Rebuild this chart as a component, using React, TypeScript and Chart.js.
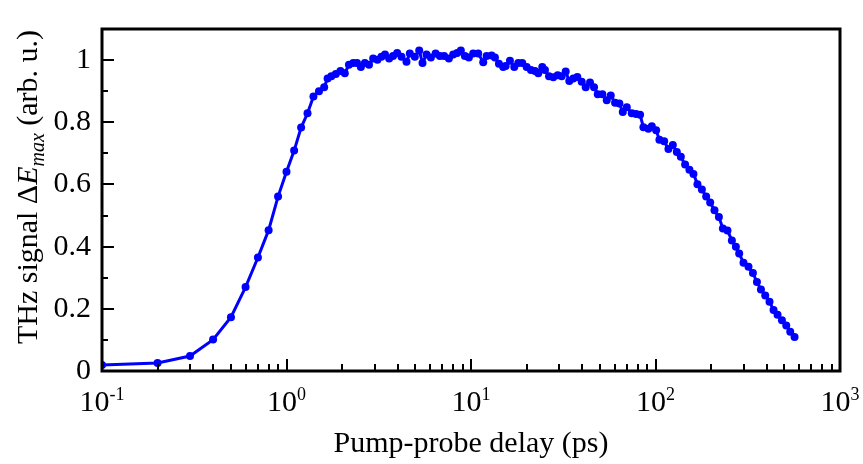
import React, { useEffect, useRef } from "react";
import { Chart, registerables } from "chart.js";

Chart.register(...registerables);

// Pump-probe delay (ps)
const delays = [
  0.1, 0.2, 0.3, 0.4, 0.5, 0.6, 0.7, 0.8, 0.9, 1.0, 1.1, 1.2, 1.3, 1.4, 1.5, 1.6,
  1.67, 1.75, 1.85, 1.96,
  2.07, 2.18, 2.3, 2.41, 2.53, 2.66, 2.8, 2.95,
  3.11, 3.27, 3.42, 3.6, 3.78, 3.98, 4.2, 4.47, 4.66, 4.96, 5.24, 5.46, 5.74,
  6.06, 6.43, 6.78, 7.15, 7.59, 8.01, 8.42, 8.81, 9.27, 9.74,
  10.28, 10.94, 11.65, 12.15, 12.94, 13.48, 14.17, 14.95, 15.41, 16.26, 17.16, 18.04, 18.96,
  20.03, 21.13, 22.22, 23.15, 24.34, 25.17, 26.47, 27.93, 29.51, 31.01, 32.6, 34.11, 35.85,
  37.69, 39.82, 41.86, 44.17, 46.43, 48.64, 51.52, 54.43, 57.22, 60.37, 63.7, 66.47, 69.88,
  74.37, 78.47, 82.49, 86.0, 91.5, 95.5, 100.8, 105.0, 111.4, 117.5, 124.1, 130.5, 137.2,
  144.7, 152.7, 160.6,
  168.8, 178.4, 188.2, 197.9, 208.8, 220.6, 231.9, 245.5, 259.4, 272.7, 284.2,
  299.9, 319.2, 337.3, 354.6, 372.8, 393.3, 415.0, 436.3, 458.6, 484.5, 511.2, 537.4, 567.2,
];

// THz signal ΔE_max (arb. u.)
const signal = [
  0.019, 0.026, 0.048, 0.101, 0.173, 0.27, 0.365, 0.453, 0.561, 0.641, 0.709, 0.783, 0.829, 0.883, 0.9, 0.913,
  0.941, 0.948, 0.955, 0.965,
  0.958, 0.985, 0.991, 0.991, 0.978, 0.991, 0.985, 1.005,
  1.001, 1.011, 1.018, 1.005, 1.013, 1.023, 1.011, 0.995, 1.021, 1.011, 1.031, 0.991, 1.018,
  1.008, 1.021, 1.013, 1.013, 1.005, 1.018, 1.023, 1.031, 1.013, 1.008,
  1.021, 1.021, 0.993, 1.013, 1.015, 1.008, 0.988, 0.978, 0.981, 0.998, 0.978, 0.991, 0.991,
  0.978, 0.968, 0.965, 0.958, 0.978, 0.968, 0.948, 0.945, 0.951, 0.948, 0.963, 0.933, 0.941,
  0.946, 0.93, 0.913, 0.928, 0.913, 0.89, 0.89, 0.871, 0.886, 0.863, 0.86, 0.833, 0.848,
  0.829, 0.827, 0.824, 0.784, 0.779, 0.787, 0.774, 0.744, 0.739, 0.714, 0.727, 0.704, 0.689,
  0.664, 0.647, 0.634,
  0.601, 0.584, 0.561, 0.542, 0.517, 0.495, 0.458, 0.452, 0.42, 0.4, 0.378,
  0.348, 0.335, 0.315, 0.286, 0.262, 0.243, 0.223, 0.196, 0.181, 0.163, 0.146, 0.126, 0.109,
];

const xDecadeExponents = ["-1", "0", "1", "2", "3"];
const xTitle = "Pump-probe delay (ps)";
const yTitleParts = ["THz signal ", "\u0394", "E", "max", " (arb. u.)"];

const SERIF = '"Liberation Serif", "Times New Roman", serif';

const decoPlugin = {
  id: "deco",
  afterDraw(chart: any) {
    const { ctx, chartArea: a, scales } = chart;
    const xs = scales.x;
    const ys = scales.y;
    ctx.save();
    ctx.strokeStyle = "#000";
    ctx.fillStyle = "#000";

    // y ticks (inward)
    ctx.lineWidth = 2;
    for (let i = 0; i <= 10; i++) {
      const py = Math.round(ys.getPixelForValue(i / 10));
      const len = i % 2 === 0 ? 12 : 6;
      ctx.beginPath();
      ctx.moveTo(a.left, py);
      ctx.lineTo(a.left + len, py);
      ctx.stroke();
    }
    // x ticks (inward)
    for (let d = -1; d <= 2; d++) {
      for (let m = 1; m <= 9; m++) {
        const v = m * Math.pow(10, d);
        const px = Math.round(xs.getPixelForValue(v));
        const len = m === 1 ? 12 : 7;
        ctx.beginPath();
        ctx.moveTo(px, a.bottom);
        ctx.lineTo(px, a.bottom - len);
        ctx.stroke();
      }
    }

    // frame
    ctx.lineWidth = 3;
    ctx.strokeRect(a.left, a.top, a.right - a.left, a.bottom - a.top);

    // x tick labels 10^n
    ctx.textBaseline = "alphabetic";
    ctx.textAlign = "left";
    for (const e of xDecadeExponents) {
      const px = xs.getPixelForValue(Math.pow(10, Number(e)));
      ctx.font = `30px ${SERIF}`;
      const wBase = ctx.measureText("10").width;
      ctx.font = `18px ${SERIF}`;
      const wSup = ctx.measureText(e).width;
      const x0 = px - (wBase + wSup) / 2;
      ctx.font = `30px ${SERIF}`;
      ctx.fillText("10", x0, 411);
      ctx.font = `18px ${SERIF}`;
      ctx.fillText(e, x0 + wBase, 400);
    }

    // x title
    ctx.font = `30px ${SERIF}`;
    ctx.textAlign = "center";
    ctx.fillText(xTitle, (a.left + a.right) / 2, 452);

    // y title (rotated, mixed styles)
    const fonts = [
      `30px ${SERIF}`,
      `30px ${SERIF}`,
      `italic 30px ${SERIF}`,
      `italic 20px ${SERIF}`,
      `30px ${SERIF}`,
    ];
    const offsets = [0, 0, 0, 7, 0];
    ctx.textAlign = "left";
    const widths = yTitleParts.map((t, i) => {
      ctx.font = fonts[i];
      return ctx.measureText(t).width;
    });
    const total = widths.reduce((s, w) => s + w, 0);
    ctx.translate(37, 187);
    ctx.rotate(-Math.PI / 2);
    let cx = -total / 2;
    yTitleParts.forEach((t, i) => {
      ctx.font = fonts[i];
      ctx.fillText(t, cx, offsets[i]);
      cx += widths[i];
    });
    ctx.restore();
  },
};

export default function App() {
  const canvasRef = useRef<HTMLCanvasElement | null>(null);

  useEffect(() => {
    if (!canvasRef.current) return;
    const points = delays.map((d, i) => ({ x: d, y: signal[i] }));
    const chart = new Chart(canvasRef.current, {
      type: "line",
      data: {
        datasets: [
          {
            data: points,
            borderColor: "#0000ff",
            backgroundColor: "#0000ff",
            borderWidth: 3,
            pointRadius: 4,
            pointBorderWidth: 0,
            pointBackgroundColor: "#0000ff",
            tension: 0,
            fill: false,
          },
        ],
      },
      options: {
        animation: false,
        responsive: true,
        maintainAspectRatio: false,
        layout: { padding: { top: 3, right: 23, left: 0, bottom: 0 } },
        plugins: {
          legend: { display: false },
          tooltip: { enabled: false },
        },
        scales: {
          x: {
            type: "logarithmic",
            min: 0.1,
            max: 1000,
            grid: { display: false },
            border: { display: false },
            ticks: { display: false },
            afterFit: (s: any) => {
              s.height = 93;
            },
          },
          y: {
            type: "linear",
            min: 0,
            max: 1.1,
            grid: { display: false, drawTicks: false },
            border: { display: false },
            ticks: {
              stepSize: 0.2,
              includeBounds: false,
              padding: 11,
              color: "#000",
              font: { family: SERIF, size: 30 },
              callback: (v: any) => String(Math.round(Number(v) * 10) / 10),
            },
            afterFit: (s: any) => {
              s.width = 102;
            },
          },
        },
      },
      plugins: [decoPlugin],
    });
    return () => chart.destroy();
  }, []);

  return (
    <div style={{ position: "fixed", left: 0, top: 0, width: 863, height: 464, background: "#fff" }}>
      <canvas ref={canvasRef} />
    </div>
  );
}
